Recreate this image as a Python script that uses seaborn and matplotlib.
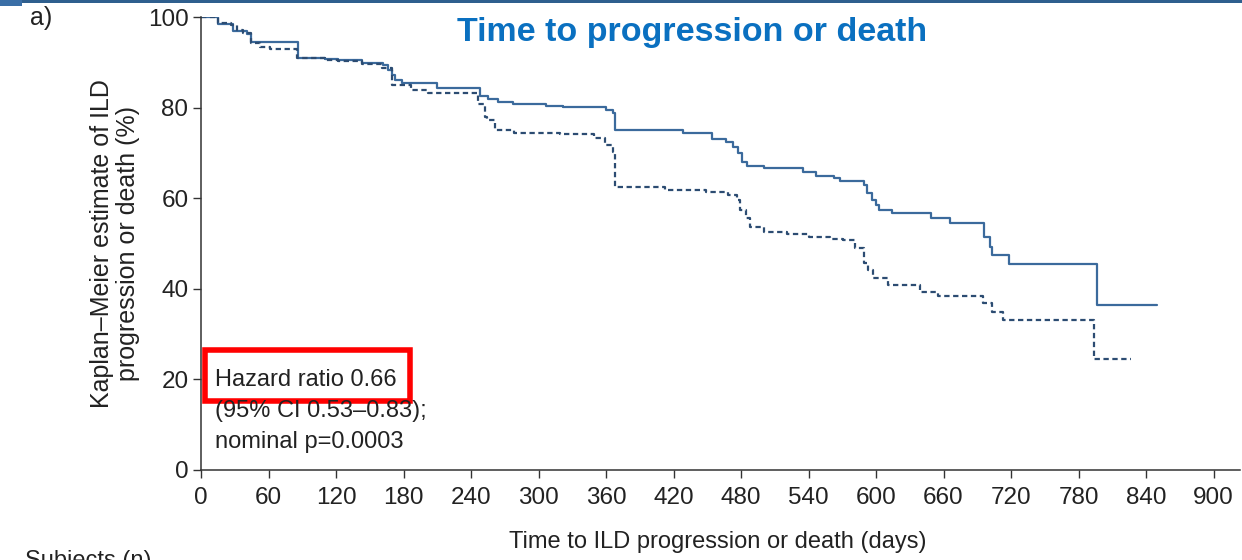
import numpy as np
import pandas as pd
import matplotlib
matplotlib.use("Agg")
import matplotlib.pyplot as plt
import matplotlib.patches as mpatches
import seaborn as sns

# ---- data ----
nint_time = [0, 15, 28, 41, 44, 86, 110, 122, 143, 162, 166, 170, 172, 179, 210, 248, 255, 264, 277,
             307, 322, 360, 366, 368, 428, 454, 467, 473, 477, 481, 485, 500, 535, 547, 563, 568,
             589, 592, 596, 600, 603, 614, 649, 666, 696, 701, 703, 718, 796, 850]
nint_surv = [100, 98.5, 97.0, 96.2, 94.5, 91.0, 90.7, 90.4, 89.9, 89.4, 88.3, 87.2, 86.1, 85.5, 84.3,
             82.6, 81.8, 81.3, 80.9, 80.4, 80.2, 79.5, 78.8, 75.1, 74.3, 73.1, 72.5, 71.4, 69.9,
             68.1, 67.1, 66.6, 65.7, 65.0, 64.4, 63.9, 62.9, 61.1, 59.6, 58.5, 57.4, 56.7, 55.6,
             54.5, 51.5, 49.3, 47.4, 45.5, 36.5, 36.5]

plac_time = [0, 15, 27, 32, 37, 44, 52, 61, 85, 110, 122, 143, 161, 170, 187, 202, 246, 252, 254,
             261, 278, 319, 349, 359, 366, 368, 412, 449, 468, 476, 479, 484, 488, 500, 521, 540,
             559, 571, 581, 589, 593, 597, 611, 639, 655, 695, 703, 713, 794, 827]
plac_surv = [100, 98.7, 98.2, 97.1, 96.4, 94.2, 93.4, 92.9, 91.0, 90.5, 90.2, 89.7, 88.7, 85.0, 83.9,
             83.2, 80.9, 78.0, 77.3, 75.1, 74.5, 74.2, 73.2, 71.7, 70.3, 62.5, 61.8, 61.4, 60.7,
             59.6, 57.4, 55.6, 53.7, 52.6, 52.1, 51.5, 51.1, 50.8, 48.9, 45.6, 44.2, 42.3, 40.8,
             39.4, 38.4, 36.9, 34.9, 33.1, 24.6, 24.6]

arms = ["Nintedanib", "Placebo"]
x_ticks = list(range(0, 901, 60))
y_ticks = [0, 20, 40, 60, 80, 100]

title = "Time to progression or death"
xlabel = "Time to ILD progression or death (days)"
ylabel = "Kaplan\u2013Meier estimate of ILD\nprogression or death (%)"
hr_lines = ["Hazard ratio 0.66", "(95% CI 0.53\u20130.83);", "nominal p=0.0003"]

df = pd.concat([
    pd.DataFrame({"time": nint_time, "surv": nint_surv, "arm": arms[0]}),
    pd.DataFrame({"time": plac_time, "surv": plac_surv, "arm": arms[1]}),
], ignore_index=True)

# ---- style ----
sns.set_style("ticks")
plt.rcParams["font.family"] = ["Liberation Sans", "DejaVu Sans"]
plt.rcParams["axes.edgecolor"] = "#333333"
plt.rcParams["xtick.color"] = "#333333"
plt.rcParams["ytick.color"] = "#333333"
plt.rcParams["text.color"] = "#222222"

fig = plt.figure(figsize=(12.42, 5.60), dpi=100)
ax = fig.add_axes([201 / 1242, 90 / 560, 1039 / 1242, 453 / 560])

sns.lineplot(data=df, x="time", y="surv", hue="arm", style="arm",
             palette={arms[0]: "#3b6a9c", arms[1]: "#2c4c72"},
             dashes={arms[0]: "", arms[1]: (2.4, 1.6)},
             drawstyle="steps-post", estimator=None, sort=False,
             linewidth=1.6, legend=False, ax=ax)

ax.set_xlim(0, 923.5)
ax.set_ylim(0, 100)
ax.set_xticks(x_ticks)
ax.set_yticks(y_ticks)
ax.tick_params(axis="both", labelsize=17.5, length=6, width=1.0, colors="#333333")
ax.tick_params(axis="x", pad=6)
ax.tick_params(axis="y", pad=3)
for lab in ax.get_xticklabels() + ax.get_yticklabels():
    lab.set_color("#222222")
for s in ["top", "right"]:
    ax.spines[s].set_visible(False)
for s in ["left", "bottom"]:
    ax.spines[s].set_linewidth(1.1)

ax.set_xlabel(xlabel, fontsize=17, color="#222222")
ax.set_ylabel(ylabel, fontsize=18, color="#222222", linespacing=1.1)
ax.xaxis.set_label_coords(0.4976, -0.135)
ax.yaxis.set_label_coords(-0.059, 0.5)

# hazard ratio box and text
fig.text(215 / 1242, 1 - 380 / 560, hr_lines[0], fontsize=17, va="center", ha="left")
fig.text(215 / 1242, 1 - 411 / 560, hr_lines[1], fontsize=17, va="center", ha="left")
fig.text(215 / 1242, 1 - 442 / 560, hr_lines[2], fontsize=17, va="center", ha="left")
fig.add_artist(mpatches.Rectangle((205 / 1242, 1 - 401 / 560), 205 / 1242, 51 / 560,
                                  transform=fig.transFigure, fill=False,
                                  edgecolor="#ff0000", linewidth=4.0))

# title and panel label
fig.text(692 / 1242, 1 - 33 / 560, title, fontsize=24.5, fontweight="bold",
         color="#0a70c0", ha="center", va="center",
         family=["Liberation Sans", "DejaVu Sans"])
fig.text(30 / 1242, 1 - 18 / 560, "a)", fontsize=18, ha="left", va="center")
fig.text(25 / 1242, 1 - 550 / 560, "Subjects (n)", fontsize=17, ha="left", va="top")

# top banner
fig.add_artist(mpatches.Rectangle((0, 1 - 3 / 560), 1, 3 / 560, transform=fig.transFigure,
                                  facecolor="#2f5f8e", edgecolor="none"))
fig.add_artist(mpatches.Rectangle((0, 1 - 6 / 560), 22 / 1242, 6 / 560, transform=fig.transFigure,
                                  facecolor="#3a6ea6", edgecolor="none"))

fig.savefig("out.png", dpi=100)
